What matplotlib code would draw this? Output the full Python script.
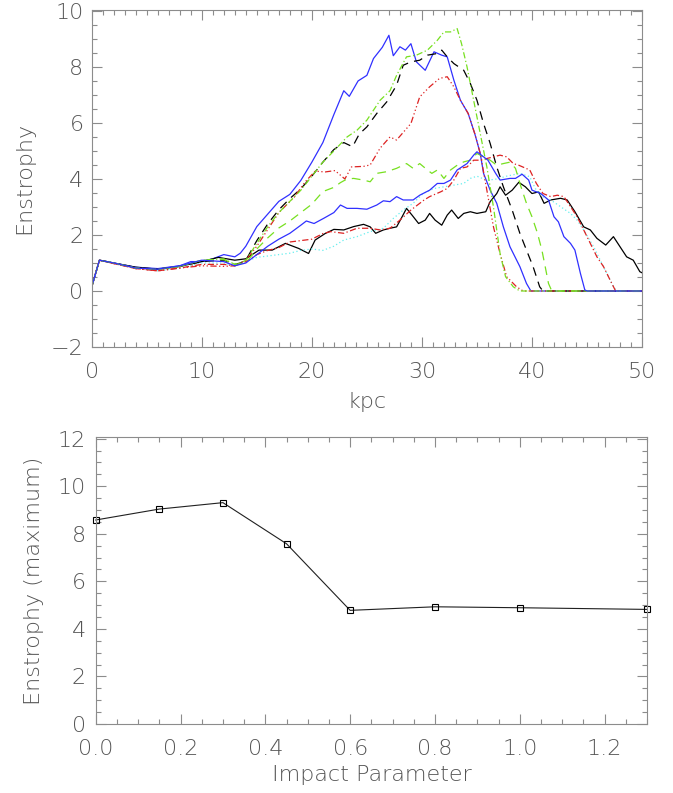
import numpy as np
import matplotlib
matplotlib.use("Agg")
import matplotlib.pyplot as plt
from matplotlib.ticker import MultipleLocator, FormatStrFormatter

# ── Data: enstrophy profiles (kpc, enstrophy) ────────────────────────────────

b1_x = [0, 0.7, 2, 4, 6, 8, 9, 10, 11, 12, 13, 13.5, 14, 15, 16, 17, 18, 19, 20, 21,
        22, 22.9, 23.4, 24.2, 25.0, 25.6, 26.4, 27.0, 27.4, 28.0, 28.5, 29.0, 29.5,
        30.3, 31.1, 31.8, 32.3, 32.9, 33.5, 34.2, 34.8, 35.3, 35.6, 36.2, 36.8, 37.4,
        38.0, 38.9, 39.5, 39.9, 50]
b1_y = [0.15, 1.1, 1.0, 0.85, 0.8, 0.9, 1.05, 1.05, 1.15, 1.3, 1.22, 1.35, 1.6, 2.3,
        2.75, 3.2, 3.45, 3.95, 4.6, 5.3, 6.3, 7.15, 6.95, 7.5, 7.7, 8.3, 8.7, 9.13,
        8.4, 8.72, 8.6, 8.83, 8.18, 7.88, 8.54, 8.42, 8.36, 7.53, 6.81, 6.34, 5.62,
        4.91, 4.2, 3.6, 3.13, 2.29, 1.58, 0.87, 0.27, 0, 0]

k2_x = [0, 0.7, 2, 4, 6, 8, 10, 12, 13, 13.5, 14, 15, 16, 17, 18, 19, 20, 21, 22,
        22.9, 23.7, 24.3, 25, 25.9, 26.8, 27.7, 28.3, 29, 29.8, 30.5, 31.4, 31.8,
        32.3, 32.9, 33.8, 34.4, 35, 35.6, 36.2, 36.8, 37.4, 38.2, 38.9, 39.5, 40.1,
        40.7, 41, 50]
k2_y = [0.15, 1.1, 1.0, 0.82, 0.78, 0.88, 1.05, 1.1, 0.95, 1.0, 1.1, 1.8, 2.4, 2.9,
        3.3, 3.65, 4.1, 4.6, 5.05, 5.3, 5.15, 5.6, 5.86, 6.34, 6.75, 7.35, 8.06, 8.18,
        8.24, 8.42, 8.48, 8.6, 8.36, 8.12, 7.88, 7.41, 6.81, 5.98, 5.27, 4.43, 3.72,
        2.89, 2.06, 1.46, 0.87, 0.15, 0, 0]

g3_x = [0, 0.7, 2, 4, 6, 8, 10, 12, 13, 13.5, 14, 15, 16, 17, 18, 19, 20, 21, 22,
        23.2, 24.1, 25, 26.2, 27.1, 27.7, 28.6, 29.5, 30.5, 31.4, 32, 32.6, 33.2,
        33.6, 34.1, 34.7, 35.3, 35.9, 36.5, 37.1, 37.6, 38.3, 38.9, 50]
g3_y = [0.15, 1.1, 1.0, 0.82, 0.78, 0.88, 1.1, 1.15, 0.95, 1.0, 1.1, 1.7, 2.3, 2.8,
        3.2, 3.6, 4.1, 4.6, 5.0, 5.5, 5.74, 6.1, 6.81, 7.15, 7.7, 8.36, 8.42, 8.6,
        8.95, 9.25, 9.25, 9.37, 8.83, 8.0, 6.81, 5.62, 4.43, 3.0, 1.34, 0.51, 0.15,
        0, 0]

r4_x = [0, 0.7, 2, 4, 6, 8, 10, 12, 13, 13.5, 14, 15, 16, 17, 18.4, 19.4, 20.3,
        21.2, 22.1, 23, 23.6, 24.7, 25.3, 26.2, 27.1, 27.7, 29, 29.8, 30.7, 31.6,
        32.3, 32.9, 33.5, 34.2, 34.8, 35.3, 35.9, 36.5, 37.1, 37.7, 38.6, 39.2, 50]
r4_y = [0.15, 1.1, 0.98, 0.8, 0.72, 0.82, 0.9, 0.88, 0.9, 1.0, 1.1, 1.6, 2.2, 2.8,
        3.35, 3.9, 4.28, 4.25, 4.3, 4.0, 4.43, 4.45, 4.5, 5.1, 5.5, 5.39, 5.98, 6.93,
        7.29, 7.59, 7.65, 7.29, 6.81, 6.34, 5.62, 4.91, 3.6, 2.29, 1.34, 0.51, 0.15,
        0, 0]

b5_x = [0, 0.7, 2, 4, 6, 8, 10, 12, 13, 14, 15, 16, 17, 18, 19, 19.5, 20.2, 21.1,
        22, 22.6, 23.2, 24.1, 25, 25.9, 26.5, 27.1, 27.7, 28.3, 29.2, 29.8, 30.7,
        31.4, 32, 32.6, 33.2, 34.1, 34.7, 35, 35.6, 36, 36.7, 37.1, 38.0, 38.5,
        39.1, 39.7, 40, 40.8, 41.5, 42.0, 42.4, 42.9, 43.5, 43.9, 44.4, 44.8, 45, 50]
b5_y = [0.15, 1.1, 1.0, 0.82, 0.78, 0.9, 1.1, 1.05, 0.9, 1.0, 1.3, 1.6, 1.85, 2.06,
        2.35, 2.5, 2.41, 2.6, 2.8, 3.07, 2.95, 2.95, 2.92, 3.07, 3.22, 3.19, 3.37,
        3.25, 3.25, 3.42, 3.6, 3.84, 3.84, 3.96, 4.32, 4.55, 4.85, 4.97, 4.79, 4.67,
        4.2, 3.96, 4.02, 4.02, 4.17, 3.96, 3.6, 3.48, 3.25, 2.65, 2.47, 1.94, 1.7,
        1.46, 0.63, 0.04, 0, 0]

g6_x = [0, 0.7, 2, 4, 6, 8, 10, 12, 13, 14, 15, 16, 17, 18, 19, 20, 21, 22, 22.6,
        23.2, 23.8, 24.7, 25.3, 25.9, 26.8, 27.7, 28.6, 29.2, 29.8, 30.5, 30.9,
        31.4, 32, 32.6, 33.2, 33.8, 34.4, 35, 35.6, 36.2, 36.8, 37.4, 38, 38.5, 39,
        39.5, 40, 40.5, 40.9, 41.2, 41.5, 41.8, 50]
g6_y = [0.15, 1.1, 1.0, 0.82, 0.78, 0.88, 1.1, 1.12, 0.95, 1.0, 1.5, 1.9, 2.25, 2.5,
        2.8, 3.1, 3.55, 3.7, 3.87, 4.0, 4.02, 3.96, 3.9, 4.2, 4.26, 4.38, 4.55, 4.38,
        4.55, 4.32, 4.2, 4.32, 4.02, 4.32, 4.49, 4.61, 4.67, 4.91, 4.79, 4.67, 4.49,
        4.55, 4.6, 4.38, 3.72, 3.13, 2.65, 2.06, 1.46, 0.87, 0.27, 0, 0]

r7_x = [0, 0.7, 2, 4, 6, 8, 10, 12, 13, 14, 15, 16, 17, 18, 19, 20, 21, 21.7, 22.9,
        24.1, 25.3, 26.2, 27.1, 28, 29, 29.6, 30.2, 30.7, 31.7, 32.3, 32.9, 33.5,
        34.1, 34.7, 35.3, 35.9, 36.5, 37.1, 37.7, 38.3, 38.8, 39.8, 40.4, 41.0,
        41.7, 42.3, 42.9, 43.5, 44.1, 44.7, 45.3, 45.9, 46.5, 47.1, 47.6, 50]
r7_y = [0.15, 1.1, 0.98, 0.8, 0.72, 0.82, 0.95, 0.95, 0.9, 1.05, 1.3, 1.45, 1.55,
        1.75, 1.8, 1.85, 2.05, 2.12, 2.06, 2.24, 2.24, 2.18, 2.24, 2.53, 2.89, 3.07,
        3.25, 3.37, 3.54, 3.66, 3.96, 4.38, 4.43, 4.67, 4.67, 4.73, 4.79, 4.85,
        4.79, 4.55, 4.49, 4.32, 3.84, 3.48, 3.37, 3.42, 3.37, 3.01, 2.65, 2.18, 1.7,
        1.22, 0.87, 0.39, 0, 0]

c8_x = [0, 0.7, 2, 4, 6, 8, 10, 12, 13, 14, 15, 16, 17, 18, 19, 20, 21, 22, 22.9,
        24.1, 25.3, 26.5, 27.4, 28.3, 29.2, 30.1, 31.1, 32, 32.9, 33.8, 34.4, 35,
        35.9, 36.8, 37.7, 38.9, 39.8, 40.3, 40.9, 41.7, 42.6, 43.5, 44.1, 44.7,
        45.6, 46.2, 46.8, 47.4, 47.7, 50]
c8_y = [0.15, 1.1, 1.0, 0.82, 0.72, 0.82, 1.0, 1.0, 0.9, 1.05, 1.2, 1.25, 1.3, 1.35,
        1.45, 1.5, 1.45, 1.6, 1.82, 1.94, 2.12, 2.24, 2.59, 2.89, 3.13, 3.48, 3.66,
        3.72, 3.78, 3.84, 4.02, 4.1, 3.95, 4.0, 4.1, 4.2, 4.08, 3.66, 3.37, 3.25,
        3.01, 2.77, 2.53, 2.18, 1.58, 1.1, 0.63, 0.15, 0, 0]

k8_x = [0, 0.7, 2, 4, 6, 8, 10, 11.5, 13, 14, 15.2, 16.4, 17.6, 18.8, 19.7, 20.3,
        21.2, 22, 22.9, 23.8, 24.7, 25.3, 25.8, 26.5, 27.1, 27.7, 28.2, 28.6, 29.1,
        29.7, 30.3, 30.7, 31.2, 31.8, 32.3, 32.7, 33.3, 33.8, 34.4, 35, 35.8, 36.2,
        36.8, 37.1, 37.6, 38.2, 38.8, 39.4, 40.0, 40.6, 41.1, 41.7, 42.6, 43.2,
        43.9, 44.7, 45.3, 45.9, 46.7, 47.4, 48.0, 48.6, 49.2, 49.8, 50]
k8_y = [0.15, 1.1, 1.0, 0.85, 0.78, 0.88, 1.05, 1.2, 1.1, 1.15, 1.46, 1.46, 1.7,
        1.52, 1.34, 1.82, 2.05, 2.2, 2.18, 2.3, 2.38, 2.29, 2.06, 2.18, 2.24, 2.29,
        2.65, 2.95, 2.71, 2.41, 2.53, 2.77, 2.53, 2.35, 2.71, 2.89, 2.59, 2.77, 2.83,
        2.77, 2.83, 3.19, 3.48, 3.72, 3.42, 3.6, 3.88, 3.72, 3.48, 3.54, 3.13, 3.25,
        3.31, 3.25, 2.83, 2.29, 2.18, 1.88, 1.64, 1.94, 1.58, 1.22, 1.1, 0.69, 0.65]

# ── Data: maximum enstrophy vs impact parameter ───────────────────────────────

impact = [0.0, 0.15, 0.3, 0.45, 0.6, 0.8, 1.0, 1.3]
ens_max = [8.58, 9.04, 9.31, 7.58, 4.78, 4.93, 4.89, 4.82]

# ── Style ─────────────────────────────────────────────────────────────────────

TXT = "#555555"
SPINE = "#8c8c8c"
FAMILY = ["DejaVu Sans"]
WEIGHT = 200
FONT = dict(family=FAMILY, weight=WEIGHT, size=16, color=TXT)

# drawing order follows the overlap seen on the zero line at large radius
CURVES = [
    (b1_x, b1_y, "#3030ff", "-"),
    (k2_x, k2_y, "black",   (0, (7, 5))),
    (k8_x, k8_y, "black",   "-"),
    (c8_x, c8_y, "#66eeee", (0, (1, 2))),
    (r7_x, r7_y, "#dd2222", (0, (5, 2, 1, 2))),
    (r4_x, r4_y, "#dd2222", (0, (5, 2, 1, 2, 1, 2, 1, 2))),
    (g3_x, g3_y, "#77e020", (0, (5, 2, 1, 2))),
    (g6_x, g6_y, "#77e020", (0, (7, 5))),
    (b5_x, b5_y, "#3030ff", "-"),
]


def style_axes(ax, xmaj, xmin, ymaj, ymin, xpad, ypad):
    ax.xaxis.set_major_locator(MultipleLocator(xmaj))
    ax.xaxis.set_minor_locator(MultipleLocator(xmin))
    ax.yaxis.set_major_locator(MultipleLocator(ymaj))
    ax.yaxis.set_minor_locator(MultipleLocator(ymin))
    ax.tick_params(which="both", direction="in", top=True, right=True, color=SPINE, width=0.8)
    ax.tick_params(which="major", length=7)
    ax.tick_params(which="minor", length=3.5)
    ax.tick_params(axis="x", pad=xpad)
    ax.tick_params(axis="y", pad=ypad)
    ax.tick_params(labelsize=16, labelcolor=TXT)
    for t in ax.xaxis.get_major_ticks() + ax.yaxis.get_major_ticks():
        t.tick1line.set_color("black")
    for sp in ax.spines.values():
        sp.set_color(SPINE)
        sp.set_linewidth(0.8)


plt.rcParams["font.family"] = FAMILY
plt.rcParams["font.weight"] = WEIGHT

fig = plt.figure(figsize=(6.73, 7.93), dpi=100)

# top panel: enstrophy profiles
ax1 = fig.add_axes([0.1363, 0.5624, 0.8177, 0.4256])
for x, y, c, ls in CURVES:
    ax1.plot(x, y, color=c, linestyle=ls, lw=0.9)
ax1.set_xlim(0, 50)
ax1.set_ylim(-2, 10.05)
style_axes(ax1, 10, 1, 2, 0.5, 11, 6)
ax1.set_xlabel("kpc", labelpad=7, **FONT)
ax1.set_ylabel("Enstrophy", labelpad=12, **FONT)

# bottom panel: maximum enstrophy
ax2 = fig.add_axes([0.1422, 0.0870, 0.8192, 0.3613])
ax2.plot(impact, ens_max, color="#202020", lw=0.8, marker="s", ms=5,
         mfc="none", mec="black", mew=0.8, clip_on=False)
ax2.set_xlim(0, 1.3)
ax2.set_ylim(0, 12.05)
ax2.xaxis.set_major_formatter(FormatStrFormatter("%.1f"))
style_axes(ax2, 0.2, 0.05, 2, 0.5, 11, 7)
ax2.set_xlabel("Impact Parameter", labelpad=4, **FONT)
ax2.set_ylabel("Enstrophy (maximum)", labelpad=10, **FONT)

fig.savefig("out.png", dpi=100)
